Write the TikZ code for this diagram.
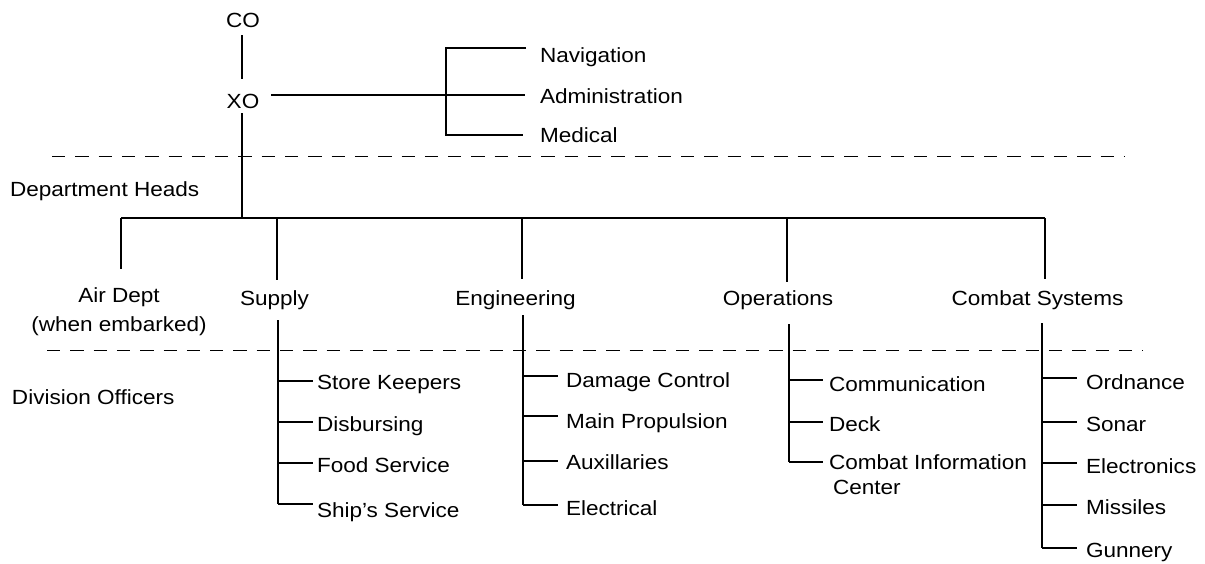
\documentclass[tikz,border=0pt]{standalone}
\usepackage{fontspec}
\setmainfont{Liberation Sans}[FakeStretch=1.1]
\begin{document}
\begin{tikzpicture}[x=1pt,y=-1pt,
  lbl/.style={inner sep=0pt, outer sep=0pt, font=\fontsize{20.5}{25}\selectfont},
  ln/.style={line width=2.4pt},
  sepline/.style={line width=1pt, dash pattern=on 13.3pt off 10pt}]
\useasboundingbox (0,0) rectangle (1205,563);

% separators
\draw[sepline] (52,156) -- (1125,156);
\draw[sepline] (47,350) -- (1143,350);

% top level
\node[lbl, anchor=base] (co) at (243,27) {CO};
\node[lbl, anchor=base] (xo) at (243,108) {XO};
\node[lbl, anchor=base west] (nav) at (540,62) {Navigation};
\node[lbl, anchor=base west] (adm) at (540,103) {Administration};
\node[lbl, anchor=base west] (med) at (540,142) {Medical};

\draw[ln, shorten <=8pt, shorten >=15pt] (co.south -| 242,0) -- (xo.north -| 242,0);
\coordinate (xb) at (446,95);
\coordinate (nb) at (446,48);
\coordinate (mb) at (446,135);
\draw[ln] ([xshift=12pt]xo.east |- xb) -- ([xshift=-15pt]adm.west |- xb);
\draw[ln] ([xshift=-14pt]nav.west |- nb) -| (mb) -- ([xshift=-17pt]med.west |- mb);

% level labels
\node[lbl, anchor=base west] (dh) at (10,196) {Department Heads};
\node[lbl, anchor=base west] (dvo) at (12,404) {Division Officers};

% departments
\node[lbl, anchor=north, align=center, font=\fontsize{20.5}{29}\selectfont] (air) at (119,288) {Air Dept\\(when embarked)};
\node[lbl, anchor=base] (supply) at (274.5,305) {Supply};
\node[lbl, anchor=base] (eng) at (515.5,305) {Engineering};
\node[lbl, anchor=base] (ops) at (778,305) {Operations};
\node[lbl, anchor=base] (cs) at (1037.5,305) {Combat Systems};

\coordinate (busL) at (121,218);
\coordinate (busX) at (242,218);
\coordinate (busR) at (1045,218);
\coordinate (bS) at (277,218);
\coordinate (bE) at (522,218);
\coordinate (bO) at (787,218);

\draw[ln, shorten <=5pt] (xo.south -| busX) -- (busX);
\draw[ln] (busL) -- (busR);
\draw[ln, shorten >=19pt] (busL) -- (busL |- air.north);
\draw[ln, shorten >=10pt] (bS) -- (bS |- supply.north);
\draw[ln, shorten >=11pt] (bE) -- (bE |- eng.north);
\draw[ln, shorten >=8pt] (bO) -- (bO |- ops.north);
\draw[ln, shorten >=11pt] (busR) -- (busR |- cs.north);

% Supply divisions
\node[lbl, anchor=base west] (sk) at (317,389) {Store Keepers};
\node[lbl, anchor=base west] (dis) at (317,431) {Disbursing};
\node[lbl, anchor=base west] (food) at (317,472) {Food Service};
\node[lbl, anchor=base west] (shs) at (317,517) {Ship’s Service};
\coordinate (s1) at (278,381);
\coordinate (s2) at (278,422);
\coordinate (s3) at (278,463);
\coordinate (s4) at (278,504);
\draw[ln, shorten <=11pt] (supply.south -| s4) -- (s4);
\foreach \c/\n in {s1/sk,s2/dis,s3/food,s4/shs}
  \draw[ln, shorten >=4pt] (\c) -- (\c -| \n.west);

% Engineering divisions
\node[lbl, anchor=base west] (dc) at (566,387) {Damage Control};
\node[lbl, anchor=base west] (mp) at (566,428) {Main Propulsion};
\node[lbl, anchor=base west] (aux) at (566,469) {Auxillaries};
\node[lbl, anchor=base west] (el) at (566,515) {Electrical};
\coordinate (e1) at (523,376);
\coordinate (e2) at (523,416);
\coordinate (e3) at (523,461);
\coordinate (e4) at (523,505);
\draw[ln, shorten <=6pt] (eng.south -| e4) -- (e4);
\foreach \c/\n in {e1/dc,e2/mp,e3/aux,e4/el}
  \draw[ln, shorten >=8pt] (\c) -- (\c -| \n.west);

% Operations divisions
\node[lbl, anchor=base west] (com) at (829,391) {Communication};
\node[lbl, anchor=base west] (deck) at (829,431) {Deck};
\node[lbl, anchor=north west, align=left] (cic) at (829,455) {Combat Information\\\hspace{4pt}Center};
\coordinate (o1) at (789,380);
\coordinate (o2) at (789,422);
\coordinate (o3) at (789,462);
\draw[ln, shorten <=15pt] (ops.south -| o3) -- (o3);
\foreach \c/\n in {o1/com,o2/deck}
  \draw[ln, shorten >=6pt] (\c) -- (\c -| \n.west);
\draw[ln, shorten >=6pt] (o3) -- (o3 -| cic.west);

% Combat Systems divisions
\node[lbl, anchor=base west] (ord) at (1086,389) {Ordnance};
\node[lbl, anchor=base west] (son) at (1086,431) {Sonar};
\node[lbl, anchor=base west] (elc) at (1086,473) {Electronics};
\node[lbl, anchor=base west] (mis) at (1086,514) {Missiles};
\node[lbl, anchor=base west] (gun) at (1086,557) {Gunnery};
\coordinate (c1) at (1042,378);
\coordinate (c2) at (1042,422);
\coordinate (c3) at (1042,463);
\coordinate (c4) at (1042,505);
\coordinate (c5) at (1042,548);
\draw[ln, shorten <=14pt] (cs.south -| c5) -- (c5);
\foreach \c/\n in {c1/ord,c2/son,c3/elc,c4/mis,c5/gun}
  \draw[ln, shorten >=9pt] (\c) -- (\c -| \n.west);
\end{tikzpicture}
\end{document}
